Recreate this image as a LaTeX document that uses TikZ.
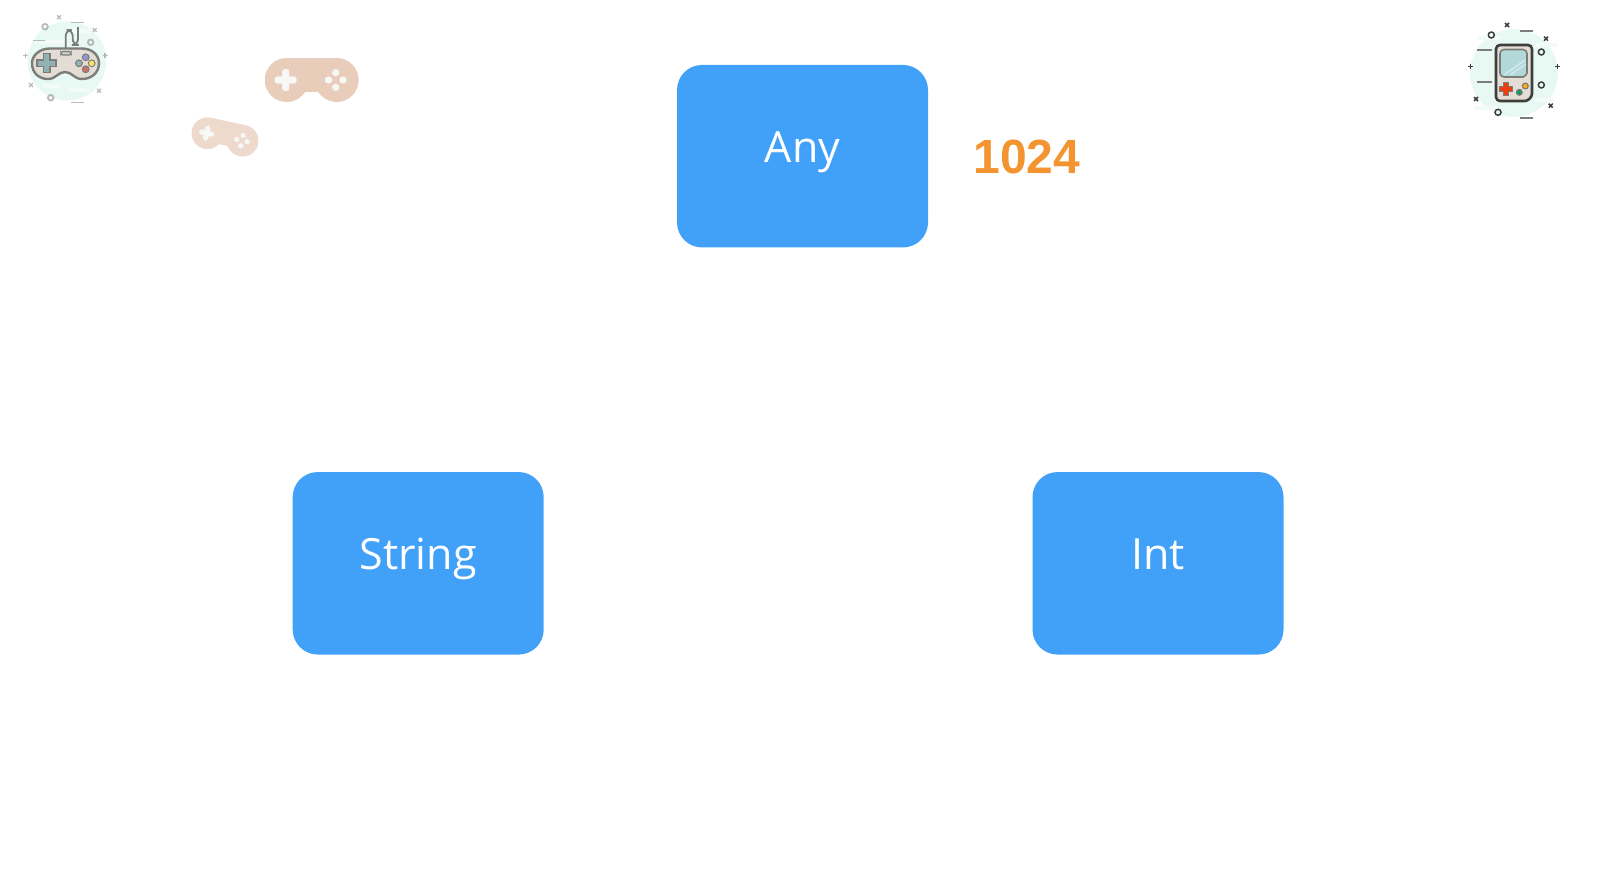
\documentclass[tikz,border=0pt]{standalone}
\usepackage{fontspec}
\setmainfont{Open Sans}
\newfontfamily\numfont{Liberation Sans}
\definecolor{boxblue}{HTML}{41A1F8}
\definecolor{numorange}{HTML}{F39430}
\definecolor{padtan}{HTML}{E8CDBB}
\definecolor{padtint}{HTML}{EEDACC}
\definecolor{padwhite}{HTML}{F6F8F6}
\definecolor{padbody}{HTML}{E4DDD5}
\definecolor{mint}{HTML}{E8F8F3}
\definecolor{mintpale}{HTML}{F3FBF9}
\definecolor{inkgrey}{HTML}{7C7C78}
\definecolor{inkdark}{HTML}{3E3E3C}
\tikzset{
  typebox/.style={fill=boxblue, text=white, rounded corners=12.5pt, inner sep=0pt,
    minimum width=125.5pt, minimum height=91.25pt,
    font=\fontsize{21.5}{26}\selectfont, text height=16pt, text depth=9.5pt},
  number/.style={text=numorange, inner sep=0pt, font=\numfont\fontsize{24}{28}\selectfont\bfseries},
  decoA/.style={draw=inkgrey!70, line width=0.6pt, opacity=0.75},
  decoB/.style={draw=inkdark, line width=0.75pt},
  dashB/.style={draw=inkgrey, line width=0.9pt},
  streak/.style={draw=mintpale, line width=2pt, line cap=round},
}
% small marks of the icons
\newcommand{\xmark}[3]{\draw [#1] (#2,#3) ++(-2,-2) -- ++(4,4) ++(-4,0) -- ++(4,-4) ;}
\newcommand{\spark}[3]{\draw [#1] (#2,#3) ++(-2.5,0) -- ++(5,0) ++(-2.5,-2.5) -- ++(0,5) ;}
\newcommand{\plusmark}[5]{\draw [#1] (#2,#3) ++(-#5,-#4) -- ++(2*#5,0) -- ++(0,#4-#5) -- ++(#4-#5,0)
  -- ++(0,2*#5) -- ++(#5-#4,0) -- ++(0,#4-#5) -- ++(-2*#5,0) -- ++(0,#5-#4) -- ++(#5-#4,0)
  -- ++(0,-2*#5) -- ++(#4-#5,0) -- cycle ;}
\newcommand{\padshape}[1]{%
  \fill [#1] (-25,0) circle (22) ;
  \fill [#1] (25,0) circle (22) ;
  \fill [#1] (-25,-22) rectangle (25,0) ;
  \fill [#1] (-14,0) rectangle (14,11.5) ;
  \fill [padwhite, rounded corners=1.5pt] (-37,-3.7) rectangle (-15,3.7) ;
  \fill [padwhite, rounded corners=1.5pt] (-29.7,-11) rectangle (-22.3,11) ;
  \fill [padwhite] (24,-7.3) circle (3.7) ;
  \fill [padwhite] (24,7.3) circle (3.7) ;
  \fill [padwhite] (16.7,0) circle (3.7) ;
  \fill [padwhite] (31.3,0) circle (3.7) ;
}
\begin{document}
\begin{tikzpicture}[x=0.5pt,y=-0.5pt]
\useasboundingbox (0,0) rectangle (1600,868) ;

\node [typebox] (any) at (802.5,156.2) {Any} ;
\node [typebox] (string) at (418.2,563.3) {String} ;
\node [typebox] (int) at (1158,563.3) {Int} ;
\node [number, anchor=base west] (count) at (973,173) {1024} ;

% game pad, top left
\fill [mint] (67,61) circle (39.5) ;
\draw [streak] (36,42) -- (62,42) ;
\draw [streak] (72,31) -- (92,31) ;
\draw [streak] (44,86) -- (60,86) ;
\draw [streak] (70,90) -- (88,90) ;
\draw [decoA, line width=0.9pt] (45,26.7) circle (2.8) ;
\draw [decoA, line width=0.9pt] (90.7,42.3) circle (2.8) ;
\draw [decoA, line width=0.9pt] (50.7,97.7) circle (2.8) ;
\xmark{decoA}{59}{17.3}
\xmark{decoA}{94.7}{30}
\xmark{decoA}{31}{85}
\xmark{decoA}{99}{90.7}
\draw [decoA] (71,22.7) -- (83.5,22.7) ;
\draw [decoA] (32.5,40.3) -- (44.5,40.3) ;
\draw [decoA] (71,102.3) -- (83.5,102.3) ;
\spark{decoA}{25.7}{55.7}
\spark{decoA}{105}{55.7}
\draw [draw=inkgrey, line width=0.9pt, rounded corners=3pt] (65.7,50) -- (65.7,30) -- (72.7,30) -- (72.7,45) -- (78,45) -- (78,27) ;
\draw [draw=inkgrey, fill=padbody, line width=1.2pt] (50,48.5) -- (82,48.5) .. controls (93,48.5) and (99,56) .. (99,63)
  .. controls (99,74) and (90,79) .. (82,79) .. controls (74,79) and (72,72) .. (65,72)
  .. controls (58,72) and (56,79) .. (48,79) .. controls (40,79) and (32,74) .. (32,63)
  .. controls (32,56) and (39,48.5) .. (50,48.5) -- cycle ;
\draw [draw=inkgrey, fill=inkgrey!40, line width=0.6pt, rounded corners=1pt] (61,51.5) rectangle (71,55) ;
\plusmark{draw=inkgrey, fill=teal!45!gray!60, line width=0.8pt}{46.7}{63}{9.5}{3.3}
\draw [draw=inkgrey, fill=blue!40!gray!60, line width=0.5pt] (85.7,57.3) circle (3.4) ;
\draw [draw=inkgrey, fill=yellow!70!orange!60, line width=0.5pt] (91.7,63.3) circle (3.4) ;
\draw [draw=inkgrey, fill=red!50!gray!75, line width=0.5pt] (85.7,69.3) circle (3.4) ;
\draw [draw=inkgrey, fill=teal!50!gray!60, line width=0.5pt] (79,63.3) circle (3.4) ;

% the two flat pads
\begin{scope}[shift={(311.7,80)}]
\padshape{padtan}
\end{scope}
\begin{scope}[shift={(225,137)}, rotate=-12, scale=0.72]
\padshape{padtint}
\end{scope}

% pocket console, top right
\fill [mint] (1514,73) circle (44) ;
\draw [streak] (1480,38) -- (1500,38) ;
\draw [streak] (1535,45) -- (1556,45) ;
\draw [streak] (1475,108) -- (1496,108) ;
\draw [streak] (1536,100) -- (1552,100) ;
\draw [decoB] (1491.3,35) circle (3) ;
\draw [decoB] (1541.3,52) circle (3) ;
\draw [decoB] (1541.3,85) circle (3) ;
\draw [decoB] (1498,112.3) circle (3) ;
\xmark{decoB}{1507}{25}
\xmark{decoB}{1546}{38.7}
\xmark{decoB}{1476}{99}
\xmark{decoB}{1550.7}{105.7}
\draw [dashB] (1520,31) -- (1533,31) ;
\draw [dashB] (1477,50) -- (1492,50) ;
\draw [dashB] (1477,82.3) -- (1492,82.3) ;
\draw [dashB] (1520,118) -- (1533,118) ;
\spark{decoB, line width=0.5pt}{1470}{66}
\spark{decoB, line width=0.5pt}{1557.5}{66}
\draw [draw=inkdark, fill=padbody, line width=1.3pt, rounded corners=2pt] (1496,45) -- (1532,45) -- (1532,90)
  .. controls (1532,97) and (1528,101) .. (1521,101) -- (1496,101) -- cycle ;
\draw [draw=inkgrey, fill=teal!30!white, line width=0.8pt, rounded corners=2pt] (1500,49.5) -- (1527,49.5) -- (1527,69)
  .. controls (1527,74) and (1524,77) .. (1519,77) -- (1500,77) -- cycle ;
\draw [white, line width=0.8pt, opacity=0.4] (1504,75) -- (1525,60) ;
\draw [white, line width=0.8pt, opacity=0.4] (1510,75) -- (1526,64) ;
\plusmark{draw=inkgrey, fill=red!60!orange!85!gray, line width=0.6pt}{1506}{89}{6.8}{2.4}
\draw [draw=inkgrey, fill=teal!75!green, line width=0.6pt] (1519.3,92.3) circle (2.9) ;
\draw [draw=inkgrey, fill=orange!60!yellow, line width=0.6pt] (1525.3,86) circle (2.9) ;

\end{tikzpicture}
\end{document}
